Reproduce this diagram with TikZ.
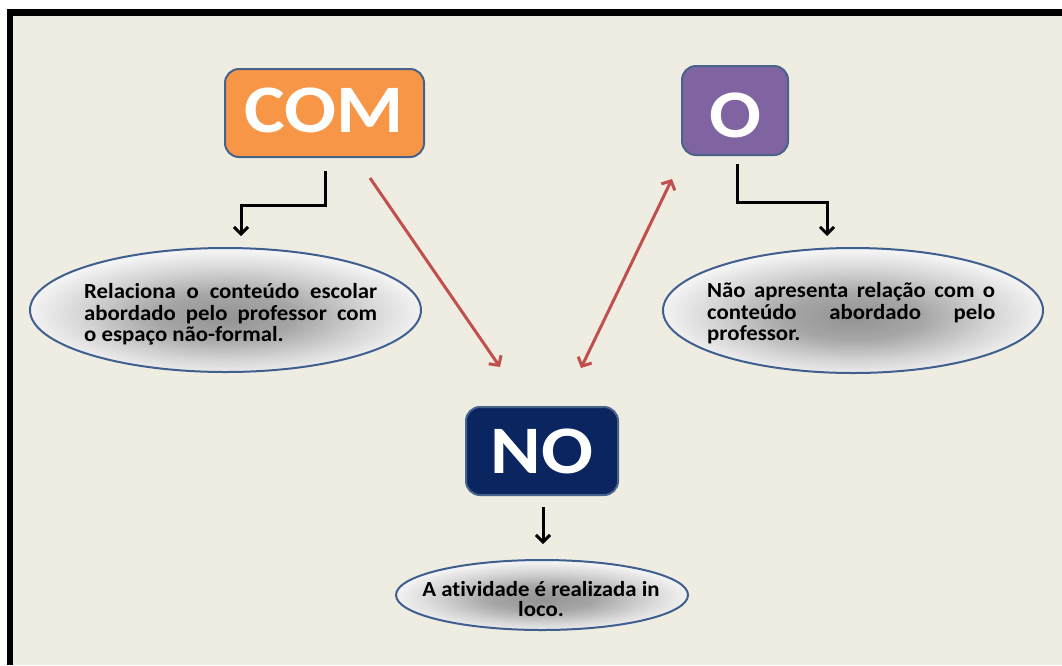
\documentclass[tikz,border=0pt]{standalone}
\usepackage{fontspec}
\setmainfont{Carlito}
\newfontfamily\bigf{Carlito}[FakeStretch=1.13]
\newfontfamily\elf{Carlito}[FakeStretch=1.06,Ligatures={NoCommon}]
\usetikzlibrary{arrows.meta,shapes.geometric,calc}
\definecolor{bg}{HTML}{EFECE2}
\definecolor{orangebox}{HTML}{F79646}
\definecolor{purplebox}{HTML}{8064A2}
\definecolor{navybox}{HTML}{0B2560}
\definecolor{boxline}{HTML}{48638A}
\definecolor{ellline}{HTML}{3F5F8F}
\definecolor{redarrow}{HTML}{C0504D}
\pgfdeclareradialshading{ellsh}{\pgfpoint{0bp}{-3bp}}{color(0bp)=(black!42); color(9bp)=(black!35); color(18bp)=(black!17); color(25bp)=(black!5); color(30bp)=(white); color(50bp)=(white)}
\tikzset{
  bigbox/.style={draw=boxline, line width=2pt, rounded corners=14pt, inner sep=0pt,
    text=white, font=\bigf\bfseries\fontsize{68}{68}\selectfont},
  ell/.style={ellipse, draw=ellline, line width=2pt, shading=ellsh, inner sep=0pt},
  etext/.style={inner sep=0pt, align=left, text=black, font=\elf\bfseries\fontsize{21.5}{21.5}\selectfont},
  blk/.style={draw=black, line width=3pt, -{Straight Barb[length=7pt,width=14pt]}},
  red/.style={draw=redarrow, line width=3pt, -{Straight Barb[length=7pt,width=15pt]}},
  redd/.style={draw=redarrow, line width=3pt, {Straight Barb[length=7pt,width=15pt]}-{Straight Barb[length=7pt,width=15pt]}},
}
\begin{document}
\begin{tikzpicture}[x=1pt,y=-1pt]
\useasboundingbox (0,0) rectangle (1062,665);
\fill[white] (0,0) rectangle (1062,665);
\fill[black] (7,9) rectangle (1062,665);
\fill[bg] (13,16) rectangle (1062,665);

\node[bigbox, fill=orangebox, minimum width=199pt, minimum height=88pt] (com) at (324.5,113) {\raisebox{3pt}[\height][\depth]{COM}};
\node[bigbox, fill=purplebox, minimum width=106pt, minimum height=89pt] (o) at (735,110.5) {\raisebox{-5pt}[\height][\depth]{O}};
\node[bigbox, fill=navybox, minimum width=152pt, minimum height=88pt] (no) at (542,451) {NO};

\node[ell, minimum width=391pt, minimum height=124pt] (e1) at (225.5,310) {};
\node[ell, minimum width=380pt, minimum height=125pt] (e2) at (853,310.5) {};
\node[ell, minimum width=292pt, minimum height=70pt] (e3) at (542,595) {};

\node[etext, anchor=north west] (t1) at (84,283.5) {\makebox[293pt][s]{Relaciona o conteúdo escolar}\\\makebox[293pt][s]{abordado pelo professor com}\\o espaço não-formal.};
\node[etext, anchor=north west] (t2) at (707,282.5) {\makebox[288pt][s]{Não apresenta relação com o}\\\makebox[288pt][s]{conteúdo abordado pelo}\\professor.};
\node[etext, align=center, anchor=north, font=\elf\bfseries\fontsize{21.5}{20.5}\selectfont] (t3) at (541,581) {A atividade é realizada in\\loco.};

\draw[blk] ($(com.south)+(0.5,13)$) -- ++(0,34) -| ($(e1.north)+(15.5,-11)$);
\draw[blk] ($(o.south)+(2,8)$) -- ++(0,38) -| ($(e2.north)+(-26,-11)$);
\draw[blk] ($(no.south)+(1,11)$) -- ($(e3.north)+(1,-15)$);

\draw[red] ($(com.south east)+(-55,20)$) -- ($(no.north west)+(35,-39)$);
\draw[redd] ($(no.north)+(39,-38)$) -- ($(o.south west)+(-9,23)$);
\end{tikzpicture}
\end{document}
